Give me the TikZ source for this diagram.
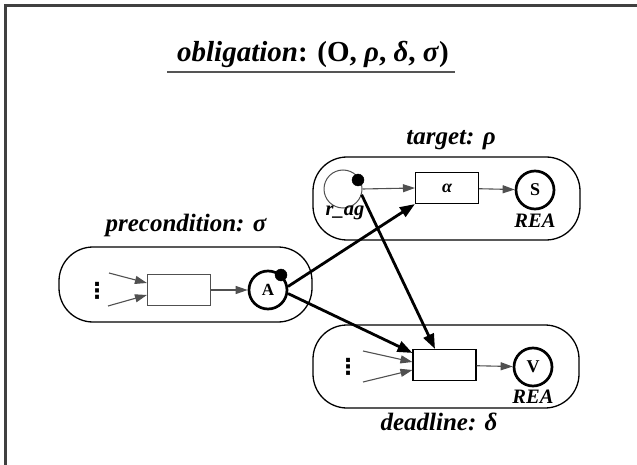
\documentclass[tikz,border=0pt]{standalone}
\usepackage{fontspec}
\setmainfont{Liberation Serif}
\newfontfamily\symfont{DejaVu Sans}
\usetikzlibrary{arrows.meta}

\definecolor{framegray}{RGB}{64,64,64}
\definecolor{flowgray}{RGB}{80,80,80}
\definecolor{ruleGray}{RGB}{85,85,85}

\tikzset{
  zone/.style={draw=black, line width=1.3pt, rounded corners=34pt, inner sep=0pt},
  zonelabel/.style={anchor=base, inner sep=0pt, font=\fontsize{25}{24}\selectfont\bfseries\itshape},
  smalllabel/.style={anchor=base, inner sep=0pt, font=\fontsize{20.5}{20}\selectfont\bfseries\itshape},
  task/.style={draw=black, line width=1.1pt, minimum width=63pt, minimum height=31pt, inner sep=0pt},
  state/.style={circle, draw=black, line width=2.7pt, minimum size=38pt, inner sep=0pt,
    font=\fontsize{18}{18}\selectfont\bfseries},
  role/.style={circle, draw=flowgray, line width=1pt, minimum size=38pt, inner sep=0pt},
  token/.style={circle, fill=black, draw=black, minimum size=12pt, inner sep=0pt},
  more/.style={inner sep=0pt, font=\symfont\fontsize{22}{22}\selectfont\bfseries},
  flow/.style={draw=flowgray, line width=1.1pt, -{Triangle[length=12pt,width=8pt]}},
  link/.style={draw=black, line width=2.8pt, -{Triangle[length=15pt,width=11pt]}}
}

\begin{document}
\begin{tikzpicture}[x=1pt,y=-1pt]
  \useasboundingbox (0,0) rectangle (637,465);

  % outer frame (only its top and left edges fall on the page)
  \draw[framegray, line width=3pt] (5.5,480) -- (5.5,5.5) -- (660,5.5);

  % title with its rule
  \node[anchor=base, inner sep=0pt, font=\fontsize{29}{28}\selectfont\bfseries] (title) at (313,62)
    {\textit{obligation}: (O, \textit{ρ}, \textit{δ}, \textit{σ})};
  \draw[ruleGray, line width=1.5pt] (167,72) -- (455,72);

  % ---- precondition ----
  \node[zone, minimum width=253pt, minimum height=75pt] (pre) at (185.5,284.5) {};
  \node[zonelabel] (prelabel) at (186,232) {precondition: σ};
  \node[more] (predots) at (97,291) {⋮};
  \coordinate (pin1) at (109,273);
  \coordinate (pin2) at (108,306);
  \node[task, draw=flowgray] (pbox) at (179,290) {};
  \node[state, font=\fontsize{17}{17}\selectfont\bfseries] (A) at (268,290) {A};
  \node[token] (Atok) at (281,275) {};
  \draw[flow] (pin1) -- ([yshift=7pt]pbox.west);
  \draw[flow] (pin2) -- ([yshift=-5pt]pbox.west);
  \draw[flow] (pbox) -- (A);

  % ---- target ----
  \node[zone, minimum width=267pt, minimum height=83pt] (tgt) at (446.5,198.5) {};
  \node[zonelabel] (tgtlabel) at (451,145) {target: ρ};
  \node[role] (rag) at (343,189) {};
  \node[token] (ragtok) at (358,180) {};
  \node[smalllabel] (raglabel) at (345,215) {r\_ag};
  \node[task, font=\fontsize{18}{18}\selectfont\bfseries\itshape] (alpha) at (447,188) {α};
  \node[state] (S) at (535,190) {S};
  \node[smalllabel] (Srea) at (535,227) {REA};
  \draw[flow] (rag.east) -- (alpha.west);
  \draw[flow] (alpha) -- (S);

  % ---- deadline ----
  \node[zone, minimum width=266pt, minimum height=83pt] (dl) at (446,366.5) {};
  \node[zonelabel] (dllabel) at (439,430) {deadline: δ};
  \node[more] (dldots) at (348,367) {⋮};
  \coordinate (din1) at (363,351);
  \coordinate (din2) at (363,382);
  \node[task] (dbox) at (444.5,365) {};
  \node[state] (V) at (533,367) {V};
  \node[smalllabel] (Vrea) at (533,403) {REA};
  \draw[flow] (din1) -- ([yshift=3pt]dbox.west);
  \draw[flow] (din2) -- ([yshift=-5pt]dbox.west);
  \draw[flow] (dbox) -- (V);

  % ---- links between the parts ----
  \draw[link] (A.10) -- (alpha.south west);
  \draw[link] (A.-10) -- ([yshift=-4pt]dbox.north west);
  \draw[link] (rag.-17) -- ([xshift=-9.5pt]dbox.north);
\end{tikzpicture}
\end{document}
